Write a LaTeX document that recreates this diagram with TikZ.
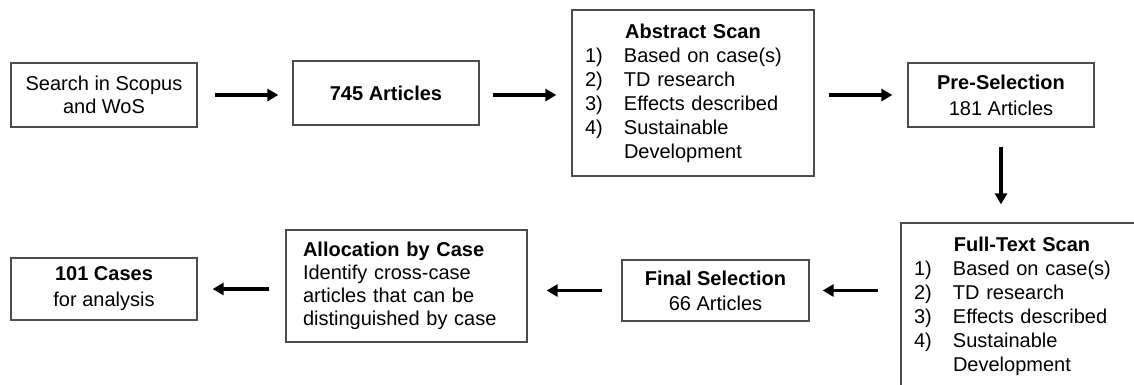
\documentclass[tikz,border=0pt]{standalone}
\usepackage{fontspec}
\setmainfont{Liberation Sans}
\usetikzlibrary{arrows.meta,calc}
\begin{document}
\begin{tikzpicture}[x=1pt,y=-1pt,
  box/.style={draw=black!70,line width=1.3pt,inner sep=0pt,fill=white,
    font=\fontsize{20}{24}\selectfont},
  arr/.style={draw=black,line width=3.6pt,-{Triangle[length=11pt,width=12pt]}}]
\useasboundingbox (0,0) rectangle (1134,384);
\clip (0,0) rectangle (1134,384);
% top row
\node[box,minimum width=186pt,minimum height=64pt,align=center,
  font=\fontsize{20}{23}\selectfont] (search) at (104,95) {Search in Scopus\\and WoS};
\node[box,minimum width=186pt,minimum height=64pt,
  font=\bfseries\fontsize{20}{24}\selectfont] (art) at (386,93) {745 Articles};
\node[box,minimum width=242pt,minimum height=166pt,text width=216pt,align=left] (abs) at (693,93)
  {\makebox[216pt][c]{\bfseries Abstract Scan}\\
   \makebox[39pt][l]{1)}Based on case(s)\\
   \makebox[39pt][l]{2)}TD research\\
   \makebox[39pt][l]{3)}Effects described\\
   \makebox[39pt][l]{4)}Sustainable\\
   \hspace*{39pt}Development};
\node[box,minimum width=186pt,minimum height=64pt,align=center,
  font=\fontsize{20}{26}\selectfont] (pre) at (1001,95) {\textbf{Pre-Selection}\\181 Articles};
% bottom row
\node[box,minimum width=242pt,minimum height=166pt,text width=216pt,align=left] (full) at (1022,306)
  {\makebox[216pt][c]{\bfseries Full-Text Scan}\\
   \makebox[39pt][l]{1)}Based on case(s)\\
   \makebox[39pt][l]{2)}TD research\\
   \makebox[39pt][l]{3)}Effects described\\
   \makebox[39pt][l]{4)}Sustainable\\
   \hspace*{39pt}Development};
\node[box,minimum width=187pt,minimum height=61pt,align=center,
  font=\fontsize{20}{25}\selectfont] (final) at (715.5,290.5) {\textbf{Final Selection}\\66 Articles};
\node[box,minimum width=241pt,minimum height=112pt,text width=207pt,align=left,
  font=\fontsize{20}{23}\selectfont] (alloc) at (406.5,286)
  {\textbf{Allocation by Case}\\Identify cross-case\\articles that can be\\distinguished by case};
\node[box,minimum width=186pt,minimum height=62pt,align=center,
  font=\fontsize{20}{26}\selectfont] (c101) at (104,289) {\textbf{101 Cases}\\for analysis};
% connectors
\draw[arr,shorten <=17pt,shorten >=14pt] (search.east) -- (search.east -| art.west);
\draw[arr,shorten <=13pt,shorten >=15pt] (search.east -| art.east) -- (search.east -| abs.west);
\draw[arr,shorten <=14pt,shorten >=15pt] (pre.west -| abs.east) -- (pre.west);
\draw[arr,shorten <=19pt,shorten >=18pt] (pre.south) -- (pre.south |- full.north);
\draw[arr,shorten <=22pt,shorten >=13pt] (full.west |- final.east) -- (final.east);
\draw[arr,shorten <=19pt,shorten >=19pt] (final.west) -- (final.west -| alloc.east);
\draw[arr,shorten <=16pt,shorten >=15pt] (c101.east -| alloc.west) -- (c101.east);
\end{tikzpicture}
\end{document}
